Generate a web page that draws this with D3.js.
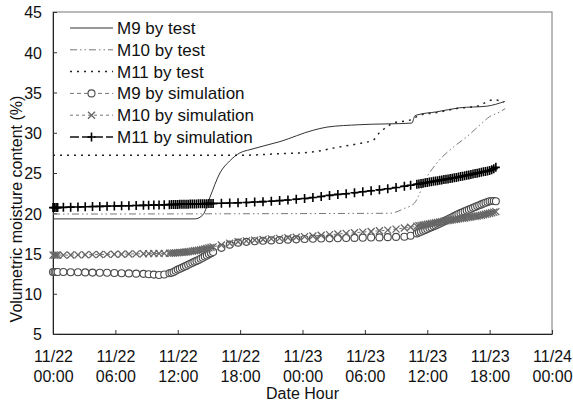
<!DOCTYPE html>
<html>
<head>
    <meta charset="utf-8">
    <script src="https://cdn.jsdelivr.net/npm/d3@7/dist/d3.min.js"></script>
    <style>
        * { margin: 0; padding: 0; }
        body { background: #fff; }
        text { font-family: "Liberation Sans", Arial, sans-serif; fill: #111; }
    </style>
</head>
<body>
<div id="chart"></div>
<script>
    // tick labels
    var xTickHours = [0, 6, 12, 18, 24, 30, 36, 42, 48];
    var xTickDates = ["11/22", "11/22", "11/22", "11/22", "11/23", "11/23", "11/23", "11/23", "11/24"];
    var xTickTimes = ["00:00", "06:00", "12:00", "18:00", "00:00", "06:00", "12:00", "18:00", "00:00"];
    var yTicks = [5, 10, 15, 20, 25, 30, 35, 40, 45];

    // measured series (hours after 11/22 00:00)
    var m9TestHours = [0, 13.65, 14.42, 15.1, 16.06, 17.0, 17.98, 18.94, 21.83, 25.0, 26.35, 29.52, 34.52, 34.81, 35.0, 36.92, 39.13, 41.73, 43.46];
    var m9TestVals  = [19.3, 19.3, 19.8, 22.0, 25.0, 26.5, 27.5, 27.9, 28.9, 30.3, 30.7, 31.0, 31.2, 32.1, 32.2, 32.6, 33.1, 33.3, 33.9];

    var m10TestHours = [0, 32.4, 33.8, 34.8, 35.1, 35.8, 36.9, 38.5, 39.8, 41.1, 42.0, 43.0, 43.5];
    var m10TestVals  = [19.9, 20.0, 20.6, 21.3, 22.0, 24.1, 26.2, 28.2, 29.5, 31.0, 32.0, 32.6, 33.0];

    var m11TestHours = [0, 18, 21.8, 24.9, 27.4, 29.2, 30.8, 31.4, 32.1, 32.7, 34.4, 35.3, 36.9, 38.8, 40.8, 42.4, 43.4];
    var m11TestVals  = [27.2, 27.2, 27.4, 27.6, 28.2, 28.6, 29.1, 30.0, 30.7, 31.2, 31.6, 32.2, 32.5, 33.0, 33.3, 34.1, 33.8];

    // simulation time steps
    var simHours = [
        0, 0.15, 0.3, 0.45,
        1.0, 1.7, 2.4, 3.1, 3.8, 4.5, 5.2, 5.9, 6.6, 7.3, 8.0, 8.7,
        9.2, 9.7, 10.2, 10.7, 11.2,
        11.4, 11.6, 11.8, 12.0, 12.2, 12.4, 12.6, 12.8, 13.0, 13.2, 13.4, 13.6, 13.8, 14.0, 14.2, 14.4, 14.6, 14.8, 15.0, 15.2, 15.4,
        16.2, 17.0, 17.8, 18.6, 19.4, 20.2, 21.0, 21.8, 22.6, 23.4, 24.2, 25.0, 25.8, 26.6, 27.4, 28.2, 29.0, 29.8, 30.6, 31.4, 32.2, 33.0, 33.8, 34.4,
        35.0, 35.2, 35.4, 35.6, 35.8, 36.0, 36.2, 36.4, 36.6, 36.8, 37.0, 37.2, 37.4, 37.6, 37.8, 38.0, 38.2, 38.4, 38.6, 38.8,
        39.0, 39.2, 39.4, 39.6, 39.8, 40.0, 40.2, 40.4, 40.6, 40.8, 41.0, 41.2, 41.4, 41.6, 41.8, 42.0, 42.2, 42.4, 42.6
    ];

    var m9SimVals = [
        12.7, 12.7, 12.7, 12.7,
        12.7, 12.68, 12.67, 12.65, 12.63, 12.61, 12.6, 12.58, 12.55, 12.53, 12.5, 12.47,
        12.43, 12.38, 12.33, 12.4, 12.55,
        12.6, 12.7, 12.85, 13.0, 13.1, 13.22, 13.34, 13.46, 13.6, 13.72, 13.84, 13.96, 14.08, 14.2, 14.34, 14.48, 14.62, 14.76, 14.9, 15.04, 15.18,
        15.7, 16.1, 16.35, 16.45, 16.52, 16.58, 16.63, 16.68, 16.72, 16.76, 16.8, 16.83, 16.86, 16.88, 16.9, 16.92, 16.94, 16.96, 16.98, 17.0, 17.03, 17.06, 17.09, 17.2,
        17.5, 17.6, 17.7, 17.82, 17.93, 18.05, 18.16, 18.27, 18.38, 18.49, 18.6, 18.73, 18.86, 18.99, 19.12, 19.25, 19.38, 19.51, 19.64, 19.77,
        19.9, 20.01, 20.12, 20.23, 20.34, 20.45, 20.56, 20.67, 20.78, 20.89, 21.0, 21.1, 21.2, 21.3, 21.4, 21.5, 21.52, 21.53, 21.5
    ];

    var m10SimVals = [
        14.8, 14.8, 14.8, 14.8,
        14.8, 14.81, 14.83, 14.84, 14.86, 14.87, 14.89, 14.9, 14.91, 14.93, 14.95, 14.96,
        14.98, 14.99, 15.0, 15.02, 15.04,
        15.05, 15.06, 15.08, 15.1, 15.12, 15.14, 15.16, 15.18, 15.22, 15.26, 15.3, 15.34, 15.37, 15.4, 15.45, 15.5, 15.56, 15.62, 15.7, 15.76, 15.82,
        16.05, 16.28, 16.45, 16.57, 16.66, 16.74, 16.82, 16.88, 16.95, 17.02, 17.1, 17.18, 17.26, 17.34, 17.42, 17.5, 17.58, 17.66, 17.74, 17.82, 17.9, 18.03, 18.16, 18.26,
        18.4, 18.45, 18.49, 18.54, 18.59, 18.63, 18.68, 18.73, 18.77, 18.82, 18.87, 18.91, 18.96, 19.01, 19.05, 19.1, 19.14, 19.18, 19.22, 19.26,
        19.3, 19.34, 19.38, 19.42, 19.46, 19.5, 19.54, 19.58, 19.62, 19.66, 19.7, 19.76, 19.82, 19.88, 19.94, 20.0, 20.07, 20.14, 20.2
    ];

    var m11SimVals = [
        20.7, 20.7, 20.7, 20.7,
        20.73, 20.76, 20.78, 20.8, 20.83, 20.85, 20.87, 20.9, 20.92, 20.94, 20.96, 20.98,
        21.0, 21.02, 21.03, 21.05, 21.07,
        21.08, 21.09, 21.09, 21.1, 21.11, 21.11, 21.12, 21.13, 21.13, 21.14, 21.15, 21.15, 21.16, 21.17, 21.17, 21.18, 21.19, 21.19, 21.2, 21.21, 21.21,
        21.24, 21.27, 21.3, 21.34, 21.39, 21.44, 21.5, 21.57, 21.65, 21.74, 21.83, 21.96, 22.09, 22.22, 22.34, 22.43, 22.55, 22.67, 22.79, 22.91, 23.04, 23.2, 23.36, 23.48,
        23.6, 23.64, 23.69, 23.73, 23.78, 23.82, 23.87, 23.91, 23.96, 24.0, 24.05, 24.09, 24.14, 24.18, 24.23, 24.27, 24.32, 24.36, 24.41, 24.45,
        24.5, 24.55, 24.6, 24.65, 24.71, 24.76, 24.82, 24.87, 24.93, 24.98, 25.04, 25.1, 25.15, 25.2, 25.25, 25.3, 25.4, 25.52, 25.7
    ];

    var legendNames = ["M9 by test", "M10 by test", "M11 by test", "M9 by simulation", "M10 by simulation", "M11 by simulation"];

    var width = 573, height = 404;
    var margin = { top: 12, right: 21, bottom: 70, left: 53 };
    var plotW = width - margin.left - margin.right,
        plotH = height - margin.top - margin.bottom;

    var svg = d3.select("#chart")
        .append("svg")
        .attr("width", width)
        .attr("height", height);

    var xScale = d3.scaleLinear().domain([0, 48]).range([margin.left, margin.left + plotW]);
    var yScale = d3.scaleLinear().domain([5, 45]).range([margin.top + plotH, margin.top]);

    // frame
    svg.append("rect")
        .attr("x", margin.left).attr("y", margin.top)
        .attr("width", plotW).attr("height", plotH)
        .attr("fill", "none").attr("stroke", "#777").attr("stroke-width", 1);

    // axes (ticks point inward)
    var xAxis = svg.append("g")
        .attr("transform", "translate(0," + (margin.top + plotH) + ")")
        .call(d3.axisBottom(xScale).tickValues(xTickHours).tickSizeInner(-4).tickSizeOuter(0).tickFormat(""));
    xAxis.select(".domain").attr("stroke", "#222");
    xAxis.selectAll(".tick line").attr("stroke", "#333");
    xAxis.selectAll(".tick").append("text")
        .attr("text-anchor", "middle")
        .style("font-size", "16px")
        .each(function (d, i) {
            var t = d3.select(this);
            t.append("tspan").attr("x", 0).attr("y", 28).text(xTickDates[i]);
            t.append("tspan").attr("x", 0).attr("y", 48).text(xTickTimes[i]);
        });

    var yAxis = svg.append("g")
        .attr("transform", "translate(" + margin.left + ",0)")
        .call(d3.axisLeft(yScale).tickValues(yTicks).tickSizeInner(-4).tickSizeOuter(0).tickPadding(11));
    yAxis.select(".domain").attr("stroke", "#222");
    yAxis.selectAll(".tick line").attr("stroke", "#333");
    yAxis.selectAll(".tick text")
        .style("font-size", "16px")
        .attr("fill", "#111")
        .attr("dy", "0.36em");

    svg.append("text")
        .attr("x", (xScale(0) + xScale(48)) / 2)
        .attr("y", 399)
        .attr("text-anchor", "middle")
        .style("font-size", "16px")
        .text("Date Hour");

    svg.append("text")
        .attr("transform", "translate(22,209) rotate(-90)")
        .attr("text-anchor", "middle")
        .style("font-size", "16px")
        .text("Volumetric moisture content (%)");

    function pairs(hours, vals) {
        if (hours.length != vals.length) throw new Error("length mismatch " + hours.length + " " + vals.length);
        return hours.map(function (h, i) { return { h: h, v: vals[i] }; });
    }

    var line = d3.line()
        .x(function (d) { return xScale(d.h); })
        .y(function (d) { return yScale(d.v); })
        .curve(d3.curveMonotoneX);

    var styles = [
        { stroke: "#333", width: 1, dash: null },
        { stroke: "#777", width: 1, dash: "7,3,1.5,3,1.5,3" },
        { stroke: "#222", width: 1.5, dash: "2,5" },
        { stroke: "#777", width: 1, dash: "4,3" },
        { stroke: "#777", width: 1, dash: "3,3" },
        { stroke: "#111", width: 1.6, dash: "9,3" }
    ];

    var series = [
        pairs(m9TestHours, m9TestVals),
        pairs(m10TestHours, m10TestVals),
        pairs(m11TestHours, m11TestVals),
        pairs(simHours, m9SimVals),
        pairs(simHours, m10SimVals),
        pairs(simHours, m11SimVals)
    ];

    series.forEach(function (s, i) {
        svg.append("path")
            .datum(s)
            .attr("d", line)
            .attr("fill", "none")
            .attr("stroke", styles[i].stroke)
            .attr("stroke-width", styles[i].width)
            .attr("stroke-dasharray", styles[i].dash);
    });

    function circleMark(g, x, y) {
        g.append("circle").attr("cx", x).attr("cy", y).attr("r", 3.5)
            .attr("fill", "#fff").attr("stroke", "#4a4a4a").attr("stroke-width", 1.1);
    }
    function crossMark(g, x, y) {
        g.append("path")
            .attr("d", "M" + (x - 3.5) + "," + (y - 3.5) + "L" + (x + 3.5) + "," + (y + 3.5) +
                "M" + (x - 3.5) + "," + (y + 3.5) + "L" + (x + 3.5) + "," + (y - 3.5))
            .attr("stroke", "#666").attr("stroke-width", 1.3).attr("fill", "none");
    }
    function plusMark(g, x, y) {
        g.append("path")
            .attr("d", "M" + (x - 4) + "," + y + "L" + (x + 4) + "," + y +
                "M" + x + "," + (y - 4.5) + "L" + x + "," + (y + 4.5))
            .attr("stroke", "#000").attr("stroke-width", 1.6).attr("fill", "none");
    }
    var markers = [null, null, null, circleMark, crossMark, plusMark];

    series.forEach(function (s, i) {
        if (!markers[i]) return;
        var g = svg.append("g");
        s.forEach(function (d) { markers[i](g, xScale(d.h), yScale(d.v)); });
    });

    // legend
    var legend = svg.append("g");
    legendNames.forEach(function (name, i) {
        var cy = 28 + i * 21.8;
        legend.append("line")
            .attr("x1", 70).attr("x2", 113).attr("y1", cy).attr("y2", cy)
            .attr("stroke", styles[i].stroke)
            .attr("stroke-width", styles[i].width)
            .attr("stroke-dasharray", styles[i].dash);
        if (markers[i]) markers[i](legend, 91.5, cy);
        legend.append("text")
            .attr("x", 117).attr("y", cy + 6)
            .style("font-size", "17px")
            .text(name);
    });
</script>
</body>
</html>
